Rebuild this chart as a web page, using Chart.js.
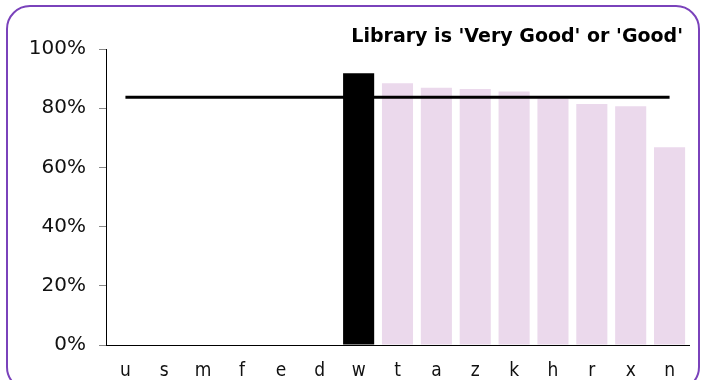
<!DOCTYPE html>
<html>
<head>
<meta charset="utf-8">
<script src="https://cdn.jsdelivr.net/npm/chart.js@4.4.1/dist/chart.umd.min.js"></script>
<style>
  html, body { margin: 0; padding: 0; background: #fff; overflow: hidden; }
  #wrap { position: relative; width: 704px; height: 380px; overflow: hidden; }
  #frame {
    position: absolute; left: 6px; top: 5px; width: 694px; height: 386px;
    border: 2px solid #7a42bb; border-radius: 24px; box-sizing: border-box;
  }
  #chart { position: absolute; left: 0; top: 0; }
</style>
</head>
<body>
<div id="wrap">
  <div id="frame"></div>
  <canvas id="chart" width="704" height="380"></canvas>
</div>
<script>
// Share of respondents rating the library 'Very Good' or 'Good', by group
const categories = ['u', 's', 'm', 'f', 'e', 'd', 'w', 't', 'a', 'z', 'k', 'h', 'r', 'x', 'n'];
const shares = [null, null, null, null, null, null, 91.8, 88.4, 86.9, 86.5, 85.6, 83.3, 81.4, 80.7, 66.8];
const highlighted = 'w';
const benchmark = 83.7;
const yTicks = [0, 20, 40, 60, 80, 100];
const titleText = "Library is 'Very Good' or 'Good'";

const barColors = categories.map(c => c === highlighted ? '#000000' : '#ebd9ec');
const benchmarkLine = categories.map(() => benchmark);

const titlePlugin = {
  id: 'cornerTitle',
  afterDraw(chart) {
    const ctx = chart.ctx;
    ctx.save();
    ctx.font = "bold 19px 'DejaVu Sans'";
    ctx.fillStyle = '#000';
    ctx.textAlign = 'right';
    ctx.textBaseline = 'alphabetic';
    ctx.fillText(titleText, 683, 42);
    ctx.restore();
  }
};

new Chart(document.getElementById('chart'), {
  type: 'bar',
  data: {
    labels: categories,
    datasets: [
      {
        type: 'line',
        data: benchmarkLine,
        borderColor: '#000',
        borderWidth: 3,
        pointRadius: 0,
        fill: false,
        order: 0
      },
      {
        type: 'bar',
        data: shares,
        backgroundColor: barColors,
        borderWidth: 0,
        barPercentage: 0.8,
        categoryPercentage: 1.0,
        order: 1
      }
    ]
  },
  options: {
    responsive: false,
    animation: false,
    layout: { padding: { top: 49, right: 15, bottom: 0, left: 0 } },
    plugins: { legend: { display: false }, tooltip: { enabled: false }, title: { display: false } },
    scales: {
      x: {
        grid: { display: false, drawTicks: false },
        border: { display: true, color: '#000', width: 1 },
        ticks: {
          color: '#111',
          padding: 15,
          font: { family: "'DejaVu Sans Condensed', 'DejaVu Sans'", size: 19 }
        },
        afterFit(scale) { scale.height = 35; }
      },
      y: {
        min: 0,
        max: 100,
        afterBuildTicks(scale) { scale.ticks = yTicks.map(v => ({ value: v })); },
        grid: { display: true, drawOnChartArea: false, drawTicks: true, tickLength: 7, color: '#888' },
        border: { display: true, color: '#000', width: 1 },
        ticks: {
          color: '#111',
          padding: 13,
          font: { family: "'DejaVu Sans'", size: 20 },
          callback: v => v + '%'
        },
        afterFit(scale) { scale.width = 106; }
      }
    }
  },
  plugins: [titlePlugin]
});
</script>
</body>
</html>
